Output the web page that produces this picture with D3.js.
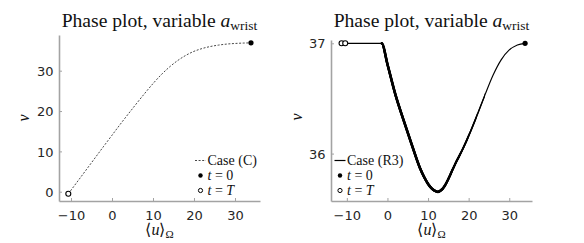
<!DOCTYPE html>
<html><head><meta charset="utf-8">
<script src="https://cdn.jsdelivr.net/npm/d3@7"></script>
<style>
html,body{margin:0;padding:0;background:#fff;}
svg{display:block;}
</style></head>
<body>
<svg id="chart" width="584" height="243"></svg>
<script>
// ---- Data ----
const titleText = "Phase plot, variable ";
const titleVar = "a";
const titleSub = "wrist";

// Left panel: Case (C)
const leftU = [-10.66, -8, -5, -2, 0, 2, 5, 8, 10, 12, 14, 16, 18, 20, 22, 24, 26, 28, 30, 32, 33.9];
const leftV = [-0.5, 3.1, 7.2, 11.3, 14.0, 16.7, 20.6, 24.4, 26.8, 29.0, 30.9, 32.5, 33.8, 34.8, 35.5, 36.0, 36.35, 36.6, 36.75, 36.85, 36.9];
const leftStart = {u: 33.9, v: 36.9};
const leftEnd = [{u: -10.66, v: -0.5}];
const leftXTicks = [-10, 0, 10, 20, 30];
const leftYTicks = [0, 10, 20, 30];
const leftLegend = "Case (C)";

// Right panel: Case (R3)
const rightU = [-11.3, -10.4, -1.4, 0, 2, 4, 6, 8, 9, 10, 11, 12, 12.4, 13, 14, 15, 16, 17, 18, 20, 22, 24, 26, 28, 30, 32, 33.9];
const rightV = [37, 37, 37, 36.81, 36.53, 36.30, 36.08, 35.87, 35.79, 35.725, 35.68, 35.657, 35.653, 35.662, 35.70, 35.77, 35.85, 35.93, 36.0, 36.16, 36.34, 36.53, 36.71, 36.85, 36.94, 36.985, 37.0];
const rightStart = {u: 33.9, v: 37.0};
const rightEnd = [{u: -11.3, v: 37}, {u: -10.4, v: 37}];
const rightXTicks = [-10, 0, 10, 20, 30];
const rightYTicks = [36, 37];
const rightLegend = "Case (R3)";

const legT0 = "t", legT0b = " = 0";
const legTT = "t", legTTb = " = ", legTTc = "T";

// ---- Drawing ----
const svg = d3.select("#chart");
const serif = "'Liberation Serif', 'Times New Roman', serif";
const sans = "'DejaVu Sans', sans-serif";
const axisColor = "#a3a3a3";
const textColor = "#262626";

function panel(cfg) {
  const g = svg.append("g");
  const x = d3.scaleLinear().domain(cfg.xDom).range([cfg.x0, cfg.x1]);
  const y = d3.scaleLinear().domain(cfg.yDom).range([cfg.y1, cfg.y0]);

  // title
  const t = g.append("text").attr("x", (cfg.x0 + cfg.x1) / 2 + cfg.titleDx).attr("y", cfg.titleY)
    .attr("text-anchor", "middle").attr("font-family", serif).attr("font-size", 19.6).attr("fill", "#111");
  t.append("tspan").text(titleText);
  t.append("tspan").attr("font-style", "italic").text(titleVar);
  t.append("tspan").attr("font-size", 13.5).attr("dy", 3).text(titleSub);

  // axes
  const xa = g.append("g").attr("transform", `translate(0,${cfg.y1})`)
    .call(d3.axisBottom(x).tickValues(cfg.xTicks).tickSizeInner(-3).tickSizeOuter(0).tickFormat(d3.format("d")));
  const ya = g.append("g").attr("transform", `translate(${cfg.x0},0)`)
    .call(d3.axisLeft(y).tickValues(cfg.yTicks).tickSizeInner(-3).tickSizeOuter(0).tickFormat(d3.format("d")));
  [xa, ya].forEach(a => {
    a.select(".domain").attr("stroke", axisColor).attr("stroke-width", 1.6);
    a.selectAll(".tick line").attr("stroke", axisColor).attr("stroke-width", 1);
    a.selectAll(".tick text").attr("font-family", sans).attr("font-size", 13).attr("fill", textColor);
  });
  xa.selectAll(".tick text").attr("y", 18.5).attr("dy", 0);
  ya.selectAll(".tick text").attr("x", -5.5).attr("dy", "0.36em");

  // axis labels
  const xl = g.append("text").attr("x", (cfg.x0 + cfg.x1) / 2).attr("y", 235)
    .attr("text-anchor", "middle").attr("font-family", serif).attr("font-size", 16).attr("fill", "#111");
  xl.append("tspan").text("\u27E8");
  xl.append("tspan").attr("font-style", "italic").text("u");
  xl.append("tspan").text("\u27E9");
  xl.append("tspan").attr("font-size", 11).attr("dy", 3).text("\u03A9");
  g.append("text").attr("transform", `translate(${cfg.yLabX},${cfg.yLabY}) rotate(-90)`)
    .attr("text-anchor", "middle").attr("font-family", serif).attr("font-style", "italic")
    .attr("font-size", 16).attr("fill", "#111").text("v");

  return {g, x, y};
}

// LEFT
const L = panel({x0: 59, x1: 260, y0: 35, y1: 201, xDom: [-12.93, 36.1], yDom: [-2.3, 38.85],
  xTicks: leftXTicks, yTicks: leftYTicks, titleY: 26.5, titleDx: 0, yLabX: 29, yLabY: 118});
const leftData = leftU.map((u, i) => ({u, v: leftV[i]}));
const lineL = d3.line().x(d => L.x(d.u)).y(d => L.y(d.v)).curve(d3.curveMonotoneX);
L.g.append("path").datum(leftData).attr("d", lineL).attr("fill", "none")
  .attr("stroke", "#333").attr("stroke-width", 0.9).attr("stroke-dasharray", "2,1.6");
L.g.append("circle").attr("cx", L.x(leftStart.u)).attr("cy", L.y(leftStart.v)).attr("r", 2.6).attr("fill", "#000");
L.g.selectAll(".endpt").data(leftEnd).enter().append("circle")
  .attr("cx", d => L.x(d.u)).attr("cy", d => L.y(d.v)).attr("r", 2.5)
  .attr("fill", "#fff").attr("stroke", "#000").attr("stroke-width", 1.1);

// RIGHT
const R = panel({x0: 331, x1: 532, y0: 40, y1: 201, xDom: [-13.9, 35.6], yDom: [35.57, 37.03],
  xTicks: rightXTicks, yTicks: rightYTicks, titleY: 26.5, titleDx: 0, yLabX: 302, yLabY: 117});
const rightData = rightU.map((u, i) => ({u, v: rightV[i]}));
const lineR = d3.line().x(d => R.x(d.u)).y(d => R.y(d.v)).curve(d3.curveMonotoneX);
const defs = svg.append("defs");
R.g.append("path").datum(rightData).attr("d", lineR).attr("fill", "none")
  .attr("stroke", "#000").attr("stroke-width", 1.15);
// tapered thickness layers (trajectory retraced on the left part)
const layers = [[24, 1.4], [22, 1.65], [20, 1.9], [18, 2.15], [16, 2.4], [14, 2.6]];
layers.forEach((l, i) => {
  defs.append("clipPath").attr("id", "clipR" + i).append("rect")
    .attr("x", R.x(-1.6)).attr("y", 30).attr("width", R.x(l[0]) - R.x(-1.6)).attr("height", 180);
  R.g.append("path").datum(rightData).attr("d", lineR).attr("fill", "none")
    .attr("stroke", "#000").attr("stroke-width", l[1]).attr("clip-path", `url(#clipR${i})`);
});
R.g.append("circle").attr("cx", R.x(rightStart.u)).attr("cy", R.y(rightStart.v)).attr("r", 2.6).attr("fill", "#000");
R.g.selectAll(".endpt").data(rightEnd).enter().append("circle")
  .attr("cx", d => R.x(d.u)).attr("cy", d => R.y(d.v)).attr("r", 2.5)
  .attr("fill", "#fff").attr("stroke", "#000").attr("stroke-width", 1.1);

// legends
function legend(g, lx, ly, label, dashed) {
  g.append("line").attr("x1", lx).attr("x2", lx + 11).attr("y1", ly).attr("y2", ly)
    .attr("stroke", dashed ? "#333" : "#000").attr("stroke-width", dashed ? 0.9 : 1.2)
    .attr("stroke-dasharray", dashed ? "2,1.6" : null);
  const tx = lx + 12.5;
  g.append("text").attr("x", tx).attr("y", ly + 4.5).attr("font-family", serif).attr("font-size", 14)
    .attr("fill", "#111").text(label);
  g.append("circle").attr("cx", lx + 5.5).attr("cy", ly + 15).attr("r", 2.2).attr("fill", "#000");
  const t1 = g.append("text").attr("x", tx).attr("y", ly + 19.5).attr("font-family", serif).attr("font-size", 14).attr("fill", "#111");
  t1.append("tspan").attr("font-style", "italic").text(legT0);
  t1.append("tspan").text(legT0b);
  g.append("circle").attr("cx", lx + 5.5).attr("cy", ly + 30).attr("r", 2.1)
    .attr("fill", "#fff").attr("stroke", "#000").attr("stroke-width", 1);
  const t2 = g.append("text").attr("x", tx).attr("y", ly + 34.5).attr("font-family", serif).attr("font-size", 14).attr("fill", "#111");
  t2.append("tspan").attr("font-style", "italic").text(legTT);
  t2.append("tspan").text(legTTb);
  t2.append("tspan").attr("font-style", "italic").text(legTTc);
}
legend(L.g, 195, 160.5, leftLegend, true);
legend(R.g, 334.5, 160.5, rightLegend, false);
</script>
</body></html>
